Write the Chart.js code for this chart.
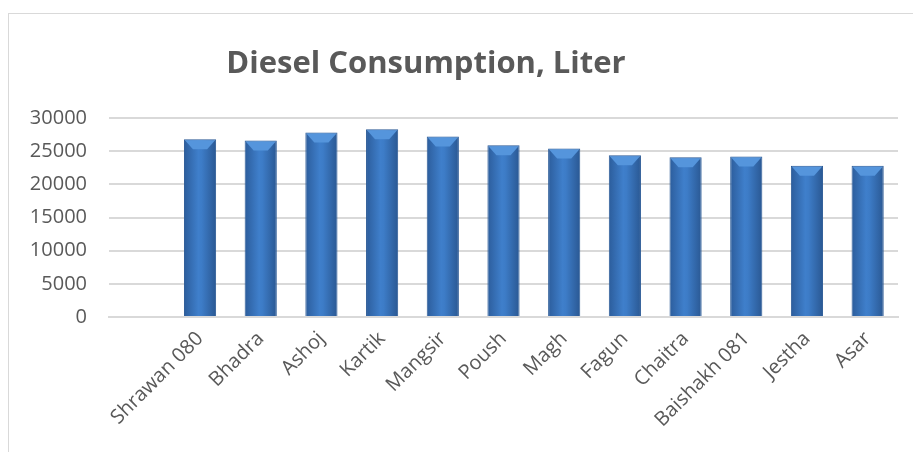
<!DOCTYPE html>
<html lang="en">
<head>
  <meta charset="UTF-8">
  <title>Diesel Consumption, Liter</title>
  <script src="https://cdn.jsdelivr.net/npm/chart.js"></script>
  <style>
    html, body {
      margin: 0;
      padding: 0;
      background: #fff;
      overflow: hidden;
    }
    .frame {
      position: absolute;
      left: 8px;
      top: 13px;
      width: 1000px;
      height: 600px;
      border: 1px solid #d9d9d9;
    }
    .wrap {
      position: absolute;
      left: 0;
      top: 0;
      width: 913px;
      height: 452px;
    }
  </style>
</head>
<body>
<div class="frame"></div>
<div class="wrap">
  <canvas id="grafico" width="913" height="452"></canvas>
</div>

<script>
  const titulo = 'Diesel Consumption, Liter';
  // first category is empty in the original sheet
  const meses = ['', 'Shrawan 080', 'Bhadra', 'Ashoj', 'Kartik', 'Mangsir', 'Poush',
    'Magh', 'Fagun', 'Chaitra', 'Baishakh 081', 'Jestha', 'Asar'];
  const consumo = [null, 26800, 26600, 27800, 28300, 27200, 25900,
    25400, 24400, 24100, 24200, 22800, 22800];
  const yTicks = [0, 5000, 10000, 15000, 20000, 25000, 30000];

  const cinza = '#595959';

  // bar fill: darker edges, lighter centre
  function corBarra(c) {
    const chart = c.chart;
    if (!chart.chartArea || !chart.scales.x) return '#3a74bd';
    const x = chart.scales.x.getPixelForValue(c.dataIndex);
    const g = chart.ctx.createLinearGradient(x - 16, 0, x + 16, 0);
    g.addColorStop(0, '#2c5d9c');
    g.addColorStop(0.45, '#3f7fcb');
    g.addColorStop(0.55, '#3d7cc7');
    g.addColorStop(1, '#2a5893');
    return g;
  }

  // light bevel on top of each bar, using the bar elements from the library
  const bevelPlugin = {
    id: 'bevelPlugin',
    afterDatasetsDraw(chart) {
      const ctx = chart.ctx;
      chart.getDatasetMeta(0).data.forEach((bar, i) => {
        if (consumo[i] == null) return;
        const l = bar.x - bar.width / 2 + 1, r = bar.x + bar.width / 2 - 1, t = bar.y + 1;
        ctx.save();
        ctx.fillStyle = '#5595dc';
        ctx.beginPath();
        ctx.moveTo(l, t);
        ctx.lineTo(r, t);
        ctx.lineTo(r - 8, t + 9);
        ctx.lineTo(l + 8, t + 9);
        ctx.closePath();
        ctx.fill();
        ctx.restore();
      });
    }
  };

  const tituloPlugin = {
    id: 'tituloPlugin',
    afterDraw(chart) {
      const ctx = chart.ctx;
      ctx.save();
      ctx.font = 'bold 31px "Open Sans"';
      ctx.fillStyle = cinza;
      ctx.textAlign = 'center';
      ctx.textBaseline = 'alphabetic';
      ctx.fillText(titulo, 426, 73);
      ctx.restore();
    }
  };

  new Chart(document.getElementById('grafico').getContext('2d'), {
    type: 'bar',
    data: {
      labels: meses,
      datasets: [{
        label: titulo,
        data: consumo,
        backgroundColor: corBarra,
        borderColor: '#2b5a96',
        borderWidth: 1,
        categoryPercentage: 1,
        barPercentage: 0.53
      }]
    },
    options: {
      responsive: false,
      animation: false,
      layout: {
        padding: {left: 0, right: 15, top: 118, bottom: 0}
      },
      plugins: {
        legend: {display: false},
        title: {display: false},
        tooltip: {enabled: false}
      },
      scales: {
        x: {
          grid: {display: false},
          border: {color: '#d9d9d9', width: 2},
          ticks: {
            color: cinza,
            font: {family: '"Open Sans"', size: 20},
            minRotation: 45,
            maxRotation: 45,
            autoSkip: false,
            padding: 2
          },
          afterFit(s) { s.height = 135; }
        },
        y: {
          min: 0,
          max: 30000,
          afterBuildTicks(s) { s.ticks = yTicks.map(v => ({value: v})); },
          grid: {color: '#d9d9d9', lineWidth: 2, drawTicks: false},
          border: {display: false},
          ticks: {
            color: cinza,
            font: {family: '"Open Sans"', size: 20},
            padding: 22,
            callback: v => String(v)
          },
          afterFit(s) { s.width = 109; }
        }
      }
    },
    plugins: [bevelPlugin, tituloPlugin]
  });
</script>
</body>
</html>
